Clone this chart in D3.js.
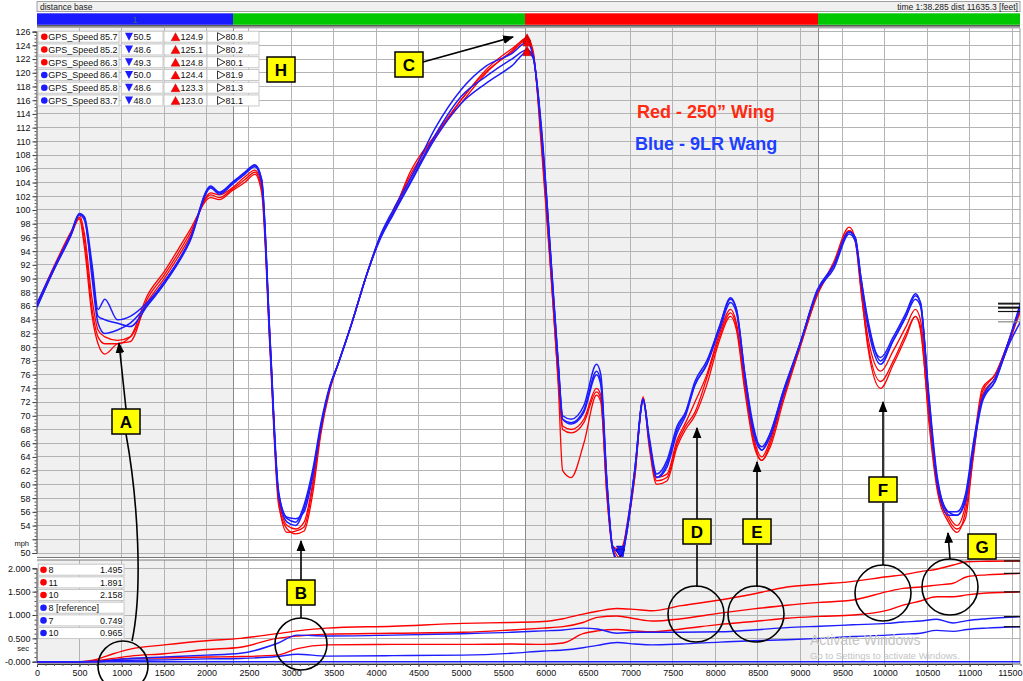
<!DOCTYPE html>
<html><head><meta charset="utf-8">
<script src="https://cdn.jsdelivr.net/npm/d3@7"></script>
<style>
body{margin:0;background:#fff;}
svg{display:block;font-family:"Liberation Sans",Arial,sans-serif;}
</style>
</head><body>
<svg id="chart" width="1023" height="681"></svg>
<script>
// ---------------- DATA ----------------
const speedDist = [0,200,400,500,560,650,720,800,950,1100,
1300,1500,1800,2050,2150,2300,2450,2570,2650,2750,
2850,2950,3050,3150,3250,3350,3450,3550,3700,3900,
4050,4200,4400,4700,5000,5300,5600,5780,5850,5950,
6050,6150,6200,6300,6450,6600,6650,6720,6790,6880,
6950,7050,7150,7220,7310,7430,7550,7650,7760,7900,
8050,8180,8250,8350,8450,8550,8650,8800,9000,9200,
9400,9580,9650,9720,9800,9950,10100,10250,10360,10420,
10520,10620,10750,10850,10950,11050,11150,11300,11450,11600];

const red1 = [86.3,91.8,96.8,98.9,95.5,85.5,81.5,80.5,80.5,81.5,
87.5,91,97,101.8,101.5,102.8,104,105.2,102.5,79,
57,53.5,52.8,53.2,58.5,67.5,73.5,77.5,83,91,
96,99.5,105.5,111,116,120.5,123.5,124.9,123,110,
93,75,68,67.5,69,73.5,72.5,59,51,50.5,
53,61,72.8,66,60.5,61,66,68.5,70.5,75.5,
81.5,85,83,74,66.5,63.5,66,72.5,80,87.5,
92,97,95.5,88,80.5,75,78,82,84.5,82.5,
70,59.5,55,53.5,55,65,73,75.5,80,85.7];

const red2 = [85.9,91.3,96.3,98.7,94.5,84.5,80.5,79,80.5,80.8,
87,90.5,96.5,102.2,101.8,103,104.4,105.5,103,80,
57.5,53,53.2,53.8,59.5,68,74,77.5,83,91,
96,99.8,105,110.8,115.5,120,123.2,125.1,123.3,109,
92.5,74,62,61,66,73,72,58.5,50.5,48.6,
53.5,61.5,72.5,65.5,60,60.5,65.5,68,70,74.5,
81,84.5,82.5,73.5,66,63.5,65.5,72,80,87.5,
92.5,97.5,95.8,88.5,80,74,77.5,81.5,84.5,83,
69,59,54.5,53,56,64.5,73.5,76,80.5,85.2];

const red3 = [86.1,91.5,96.5,99.3,96.5,87,82.5,81.5,81,81.5,
86.5,90,96,102.5,102.2,103.2,104.8,105.8,103.5,81,
58,54,53.5,54.5,60,68,73.8,77.5,83,91,
96.2,99.5,104.5,110.5,116,120.2,123,124.8,122.8,110.5,
93.5,76,68.5,68,69.5,74,73,59.5,51,49.3,
53,61,72.5,66.5,61,61.5,66.5,69,72,76,
82,85.5,83.5,74.5,67,64,66.5,73,80.5,88,
92,97,96,89,81.5,76.5,79.5,83,85.5,84,
71,60,55.5,54,57,66,74,76,80.5,86.3];

const blue1 = [86.4,91.6,96.6,99.5,99,92,85.5,87,84,84.5,
86.5,89.5,95.5,103.5,102.5,104,105.5,106.6,104.5,81,
59,55,54.5,57,62,69,74.2,77.5,83,91,
96.3,100,104.5,112,117.5,121,122.8,124.4,122.5,112,
95,77.5,70,69.5,71.5,77.5,76,61,51,50,
52.5,62,72.5,66.5,61,63,68,70.5,75,78,
83,87.2,85.5,76,68,65.5,67.5,73.5,80.5,88,
92,96.8,96,90,83.5,78.5,81.5,85,87.8,86.5,
73,61,56,56,58.5,66.5,72.5,75,80.5,86.4];

const blue2 = [85.8,91.3,96.3,99.3,98.5,91,84.5,84,83.5,83,
86,89.2,95.3,103.2,102.3,103.7,105.2,106.3,104,80,
58.5,54.5,54,56.5,61.5,68.5,74,77.5,83,91,
96,99.5,104,111,116.5,119.5,122,123.3,122.5,111,
94.5,77,69.5,68.8,70.5,76,74.5,60.5,50.5,48.6,
52.5,62,72,66.5,61,62.5,67.5,70,74.5,77.5,
82.5,86.5,85,75.5,67.5,65,67,73,80.5,88,
91.5,96.5,95.5,89.5,83,77.5,81,84.5,87,86,
72.5,60.5,56,55.5,58,66,72.5,75.5,80.5,85.8];

const blue3 = [86,91.4,96.4,99.4,98.8,90,83.5,82,82.5,83.5,
86.2,89.5,95.6,103.4,102.6,103.9,105.4,106.5,104.3,80.5,
58.5,55.2,55,56,61,68.5,74,77.5,83,91,
95.8,99.3,103.8,110.5,115.5,118.5,121,123,122.2,111.5,
95,77,69.5,69,70.8,76.5,75,60.5,50.5,48,
53,62,72.3,67,61.5,63.5,68.5,70.5,74.5,77.5,
83,87,85.5,76,68.5,65,67.5,73.5,80.5,88.3,
92,96.8,96,90,84,78,81,84.5,87.5,86.5,
72,60,55.5,55.5,57.5,65.5,72,75,80,83.7];

const speedColors = ["#ff0000","#ff0000","#ff0000","#1c1cff","#1c1cff","#1c1cff"];
const speedNames = ["GPS_Speed","GPS_Speed","GPS_Speed","GPS_Speed","GPS_Speed","GPS_Speed"];
const legendCur = [85.7,85.2,86.3,86.4,85.8,83.7];
const legendMin = [50.5,48.6,49.3,50.0,48.6,48.0];
const legendMax = [124.9,125.1,124.8,124.4,123.3,123.0];
const legendAvg = [80.8,80.2,80.1,81.9,81.3,81.1];

const timeDist = [0,500,700,900,1100,1500,2000,2400,2830,3070,
3420,4200,5025,5600,5970,6205,6440,6610,6840,7050,
7250,7600,8056,8450,8846,9236,9625,10026,10215,10420,
10610,10805,10970,11200,11600];
const deltaRed8 = [0,0,0,0.04,0.07,0.08,0.1,0.11,0.14,0.28,
0.36,0.37,0.37,0.38,0.37,0.4,0.6,0.66,0.69,0.66,
0.64,0.7,0.8,0.86,0.93,0.97,1.0,1.1,1.21,1.3,
1.39,1.39,1.43,1.47,1.495];
const deltaRed11 = [0,0,0.02,0.07,0.12,0.17,0.26,0.31,0.5,0.55,
0.59,0.61,0.63,0.68,0.72,0.75,0.84,0.95,0.98,0.92,
0.87,0.92,1.04,1.13,1.21,1.27,1.32,1.5,1.57,1.6,
1.64,1.68,1.82,1.86,1.891];
const deltaRed10 = [0,0,0.05,0.17,0.27,0.36,0.45,0.5,0.6,0.66,
0.72,0.76,0.82,0.84,0.86,0.92,1.02,1.08,1.14,1.12,
1.09,1.2,1.32,1.45,1.6,1.66,1.72,1.82,1.86,1.93,
1.98,2.07,2.14,2.15,2.158];
const refDist = [0,11635];
const deltaRef = [0,0];
const deltaBlue7 = [0,0,0,0.02,0.03,0.04,0.06,0.07,0.11,0.16,
0.12,0.13,0.14,0.18,0.23,0.25,0.3,0.35,0.41,0.38,
0.36,0.38,0.42,0.45,0.47,0.5,0.54,0.57,0.59,0.61,
0.67,0.65,0.69,0.72,0.749];
const deltaBlue10 = [0,0,0.01,0.04,0.07,0.1,0.14,0.18,0.39,0.57,
0.55,0.57,0.6,0.63,0.66,0.68,0.72,0.7,0.61,0.63,
0.63,0.63,0.64,0.68,0.73,0.76,0.79,0.82,0.85,0.87,
0.91,0.83,0.88,0.92,0.965];
const lapNames = ["8","11","10","8 [reference]","7","10"];
const lapValues = ["1.495","1.891","2.158","","0.749","0.965"];
const lapColors = ["#ff0000","#ff0000","#ff0000","#1c1cff","#1c1cff","#1c1cff"];

const segBounds = [0,2312,5756,9212,11635];
const segColors = ["#1a1aff","#00c800","#ff0000","#00c800"];
const segShade = [true,false,true,false];
const segLabels = ["1","","",""];

// ---------------- LAYOUT ----------------
const PL=37, PR=1020, MT=28, MB=557, BT=560, BB=664;
const svg = d3.select("#chart");
const x = d3.scaleLinear().domain([0,11500]).range([37,1012]);
const y = d3.scaleLinear().domain([50,126]).range([553,31.6]);
const y2 = d3.scaleLinear().domain([0,2]).range([661.7,568.3]);

svg.append("rect").attr("width",1023).attr("height",681).attr("fill","#fff");
const defs = svg.append("defs");
defs.append("clipPath").attr("id","clipMain").append("rect").attr("x",PL).attr("y",MT).attr("width",PR-PL).attr("height",MB-MT);
defs.append("clipPath").attr("id","clipBot").append("rect").attr("x",PL).attr("y",BT).attr("width",PR-PL).attr("height",BB-BT);
defs.append("marker").attr("id","arr").attr("viewBox","0 0 10 10").attr("refX",9).attr("refY",5)
  .attr("markerWidth",11).attr("markerHeight",11).attr("markerUnits","userSpaceOnUse").attr("orient","auto")
  .append("path").attr("d","M0,1 L10,5 L0,9 z").attr("fill","#000");

// header
svg.append("rect").attr("x",PL).attr("y",1.5).attr("width",PR-PL).attr("height",10).attr("fill","#f0f0f0").attr("stroke","#a0a0a0");
svg.append("text").attr("x",40).attr("y",9.5).attr("font-size",8.5).attr("fill","#222").text("distance base");
svg.append("text").attr("x",1018).attr("y",9.5).attr("font-size",8.5).attr("text-anchor","end").attr("fill","#222")
  .text("time 1:38.285      dist 11635.3 [feet]");
// segment bar
segColors.forEach((c,i)=>{
  const x0=x(segBounds[i]), x1=Math.min(x(segBounds[i+1]),PR);
  svg.append("rect").attr("x",x0).attr("y",13.3).attr("width",x1-x0).attr("height",11.5).attr("fill",c);
  if(segLabels[i]) svg.append("text").attr("x",(x0+x1)/2).attr("y",22.5).attr("font-size",9).attr("text-anchor","middle").attr("fill","#2c6b7a").text(segLabels[i]);
});
svg.append("line").attr("x1",PL).attr("x2",PR).attr("y1",25.8).attr("y2",25.8).attr("stroke","#222").attr("stroke-width",1.2);
svg.append("line").attr("x1",PL).attr("x2",PR).attr("y1",27.8).attr("y2",27.8).attr("stroke","#888");

// panel backgrounds
[[MT,MB],[BT,BB]].forEach(([t,b])=>{
  segShade.forEach((s,i)=>{
    if(!s) return;
    const x0=x(segBounds[i]), x1=Math.min(x(segBounds[i+1]),PR);
    svg.append("rect").attr("x",x0).attr("y",t).attr("width",x1-x0).attr("height",b-t).attr("fill","#f0f0f0");
  });
});

// grid
const grid = svg.append("g").attr("stroke","#b4b4b4").attr("stroke-width",1).attr("shape-rendering","crispEdges");
d3.range(500,11501,500).forEach(v=>{
  grid.append("line").attr("x1",x(v)).attr("x2",x(v)).attr("y1",MT).attr("y2",MB);
  grid.append("line").attr("x1",x(v)).attr("x2",x(v)).attr("y1",BT).attr("y2",BB);
});
d3.range(50,127,2).forEach(v=>{
  grid.append("line").attr("x1",PL).attr("x2",PR).attr("y1",y(v)).attr("y2",y(v));
});
[0,0.5,1,1.5,2].forEach(v=>{
  grid.append("line").attr("x1",PL).attr("x2",PR).attr("y1",y2(v)).attr("y2",y2(v));
});
segBounds.slice(1,-1).forEach(v=>{
  svg.append("line").attr("x1",x(v)).attr("x2",x(v)).attr("y1",MT).attr("y2",BB).attr("stroke","#8a8a8a").attr("shape-rendering","crispEdges");
});

// panel separators and frame
svg.append("line").attr("x1",PL).attr("x2",PR).attr("y1",557.5).attr("y2",557.5).attr("stroke","#777");
svg.append("line").attr("x1",PL).attr("x2",PR).attr("y1",560).attr("y2",560).attr("stroke","#777");
svg.append("line").attr("x1",PR).attr("x2",PR).attr("y1",MT).attr("y2",BB).attr("stroke","#999");
svg.append("line").attr("x1",PL).attr("x2",PR).attr("y1",BB).attr("y2",BB).attr("stroke","#555");

// axes
function styleAxis(g){ g.selectAll("text").attr("font-size",9).attr("fill","#111").attr("font-family","Liberation Sans, Arial, sans-serif"); g.select(".domain").attr("stroke","#333"); g.selectAll(".tick line").attr("stroke","#333"); }
svg.append("g").attr("transform","translate(36.5,0)")
  .call(d3.axisLeft(y).tickValues(d3.range(50,127,2)).tickSize(4).tickPadding(2).tickFormat(d=>d===52?"":d))
  .call(styleAxis);
svg.append("g").attr("transform","translate(36.5,0)")
  .call(d3.axisLeft(y).tickValues(d3.range(50,126.1,0.5)).tickSize(2).tickFormat(""))
  .call(g=>{g.select(".domain").remove(); g.selectAll(".tick line").attr("stroke","#555");});
svg.append("text").attr("x",29).attr("y",546).attr("font-size",7.5).attr("text-anchor","end").attr("fill","#111").text("mph");
svg.append("g").attr("transform","translate(36.5,0)")
  .call(d3.axisLeft(y2).tickValues([0,0.5,1,1.5,2]).tickSize(4).tickPadding(2).tickFormat(d=>d===0?"-0.000":d3.format(".3f")(d)))
  .call(styleAxis);
svg.append("g").attr("transform","translate(36.5,0)")
  .call(d3.axisLeft(y2).tickValues(d3.range(0,2.01,0.1)).tickSize(2).tickFormat(""))
  .call(g=>{g.select(".domain").remove(); g.selectAll(".tick line").attr("stroke","#555");});
svg.append("text").attr("x",29).attr("y",651).attr("font-size",7.5).attr("text-anchor","end").attr("fill","#111").text("sec");
svg.append("g").attr("transform",`translate(0,${BB})`)
  .call(d3.axisBottom(x).tickValues(d3.range(0,11501,500)).tickSize(3).tickPadding(3).tickFormat(d3.format("d")))
  .call(styleAxis)
  .call(g=>g.selectAll(".tick text").filter(d=>d===11500).attr("text-anchor","end").attr("x",10));
svg.append("g").attr("transform",`translate(0,${BB})`)
  .call(d3.axisBottom(x).tickValues(d3.range(0,11601,100)).tickSize(2).tickFormat(""))
  .call(g=>{g.select(".domain").remove(); g.selectAll(".tick line").attr("stroke","#555");});

// speed traces
const speedSeries = [red1,red2,red3,blue1,blue2,blue3];
const lineMain = d3.line().x(d=>x(d[0])).y(d=>y(d[1])).curve(d3.curveMonotoneX);
const gMain = svg.append("g").attr("clip-path","url(#clipMain)");
speedSeries.forEach((vals,i)=>{
  gMain.append("path").datum(d3.zip(speedDist,vals)).attr("d",lineMain)
    .attr("fill","none").attr("stroke",speedColors[i]).attr("stroke-width",i<3?1.3:1.5).attr("stroke-linejoin","round");
});
// min / max markers
const tri = (cx,cy,up)=> up ? `M${cx-4},${cy+3.5}L${cx+4},${cy+3.5}L${cx},${cy-4}Z` : `M${cx-4},${cy-3.5}L${cx+4},${cy-3.5}L${cx},${cy+4}Z`;
speedSeries.forEach((vals,i)=>{
  const iMax = d3.maxIndex(vals), iMin = d3.minIndex(vals);
  gMain.append("path").attr("d",tri(x(speedDist[iMax]),y(vals[iMax]),true)).attr("fill","#ff0000").attr("stroke","#a00").attr("stroke-width",0.5);
  gMain.append("path").attr("d",tri(x(speedDist[iMin]),Math.min(y(vals[iMin]),553),false)).attr("fill","#1c1cff").attr("stroke","#00a").attr("stroke-width",0.5);
});
// cursor markers main
legendCur.forEach((v,i)=>{
  svg.append("line").attr("x1",998).attr("x2",PR).attr("y1",y(v)).attr("y2",y(v)).attr("stroke",i===5?"#888":"#111").attr("stroke-width",1.2);
});

// time delta traces
const deltaSeries = [
  {d:timeDist,v:deltaRed8},{d:timeDist,v:deltaRed11},{d:timeDist,v:deltaRed10},
  {d:refDist,v:deltaRef},{d:timeDist,v:deltaBlue7},{d:timeDist,v:deltaBlue10}];
const lineBot = d3.line().x(d=>x(d[0])).y(d=>y2(d[1])).curve(d3.curveMonotoneX);
const gBot = svg.append("g").attr("clip-path","url(#clipBot)");
deltaSeries.forEach((s,i)=>{
  gBot.append("path").datum(d3.zip(s.d,s.v)).attr("d",lineBot).attr("fill","none").attr("stroke",lapColors[i]).attr("stroke-width",1.4);
});
lapValues.forEach((v,i)=>{
  if(!v) return;
  svg.append("line").attr("x1",1004).attr("x2",PR).attr("y1",y2(+v)).attr("y2",y2(+v)).attr("stroke","#111").attr("stroke-width",1.2);
});

// main legend
const legG = svg.append("g").attr("font-size",9).attr("fill","#111");
speedNames.forEach((n,i)=>{
  const cy = 36.7 + i*12.75, top = cy-5.5;
  const boxes = [[38,81],[121.5,41.5],[164,43],[207,52]];
  boxes.forEach(([bx,bw])=>legG.append("rect").attr("x",bx).attr("y",top).attr("width",bw).attr("height",11).attr("fill","#fff").attr("stroke","#c8c8c8"));
  legG.append("circle").attr("cx",44.3).attr("cy",cy).attr("r",3.3).attr("fill",speedColors[i]);
  legG.append("text").attr("x",48.3).attr("y",cy+3.3).text(n);
  legG.append("text").attr("x",117.5).attr("y",cy+3.3).attr("text-anchor","end").text(legendCur[i].toFixed(1));
  legG.append("path").attr("d",`M125,${cy-4}L133,${cy-4}L129,${cy+4}Z`).attr("fill","#1c1cff");
  legG.append("text").attr("x",133.5).attr("y",cy+3.3).text(legendMin[i].toFixed(1));
  legG.append("path").attr("d",`M171,${cy+4}L180,${cy+4}L175.5,${cy-4}Z`).attr("fill","#ff0000").attr("stroke","#a00").attr("stroke-width",0.4);
  legG.append("text").attr("x",180.5).attr("y",cy+3.3).text(legendMax[i].toFixed(1));
  legG.append("path").attr("d",`M217.5,${cy-4}L225,${cy}L217.5,${cy+4}Z`).attr("fill","#fff").attr("stroke","#222").attr("stroke-width",0.9);
  legG.append("text").attr("x",225.5).attr("y",cy+3.3).text(legendAvg[i].toFixed(1));
});
// bottom legend
lapNames.forEach((n,i)=>{
  const cy = 569.7 + i*12.67;
  legG.append("rect").attr("x",38.5).attr("y",cy-5.5).attr("width",85.5).attr("height",11).attr("fill","#fff").attr("stroke","#c8c8c8");
  legG.append("circle").attr("cx",43.5).attr("cy",cy).attr("r",3.3).attr("fill",lapColors[i]);
  legG.append("text").attr("x",48.5).attr("y",cy+3.3).text(n);
  if(lapValues[i]) legG.append("text").attr("x",122.5).attr("y",cy+3.3).attr("text-anchor","end").text(lapValues[i]);
});

// watermark
svg.append("text").attr("x",810).attr("y",645).attr("font-size",14).attr("fill","#c4c4c4").text("Activate Windows");
svg.append("text").attr("x",810).attr("y",659).attr("font-size",9.5).attr("fill","#c4c4c4").text("Go to Settings to activate Windows.");

// notes
svg.append("text").attr("x",637).attr("y",118).attr("font-size",18).attr("font-weight","bold").attr("fill","#ff2a10").text("Red - 250\u201D Wing");
svg.append("text").attr("x",635).attr("y",149.5).attr("font-size",18).attr("font-weight","bold").attr("fill","#1f3fff").text("Blue - 9LR Wang");

// annotations
const ann = svg.append("g");
const arrows = [[423,62,513,37],[126,409,119,343],[301,580,301,541],[697,519,697,428],[757,519,757,462],[883,477,883,402],[950,559,948,533]];
arrows.forEach(([a,b,c,d])=>ann.append("line").attr("x1",a).attr("y1",b).attr("x2",c).attr("y2",d).attr("stroke","#000").attr("stroke-width",1.6).attr("marker-end","url(#arr)"));
const plainLines = [[301,606,301,618],[697,545,697,587],[757,545,757,587],[883,503,883,565]];
plainLines.forEach(([a,b,c,d])=>ann.append("line").attr("x1",a).attr("y1",b).attr("x2",c).attr("y2",d).attr("stroke","#000").attr("stroke-width",1.6));
ann.append("path").attr("d","M126,434 C138,500 143,590 132,641").attr("fill","none").attr("stroke","#000").attr("stroke-width",1.6);
const circles = [[123,666,25],[301,644,26],[696,614,28],[756,614,28],[883,593,28],[950,587,28]];
circles.forEach(([cx,cy,r])=>ann.append("circle").attr("cx",cx).attr("cy",cy).attr("r",r).attr("fill","none").attr("stroke","#000").attr("stroke-width",1.6));
const boxes = [["H",267,57],["C",395,52],["A",112,409],["B",287,580],["D",683,519],["E",743,519],["F",869,477],["G",968,534]];
boxes.forEach(([t,bx,by])=>{
  ann.append("rect").attr("x",bx).attr("y",by).attr("width",28).attr("height",25).attr("fill","#ffff00").attr("stroke","#000").attr("stroke-width",1.5);
  ann.append("text").attr("x",bx+14).attr("y",by+18.5).attr("text-anchor","middle").attr("font-size",17).attr("font-weight","bold").attr("fill","#000").text(t);
});
</script>
</body></html>
